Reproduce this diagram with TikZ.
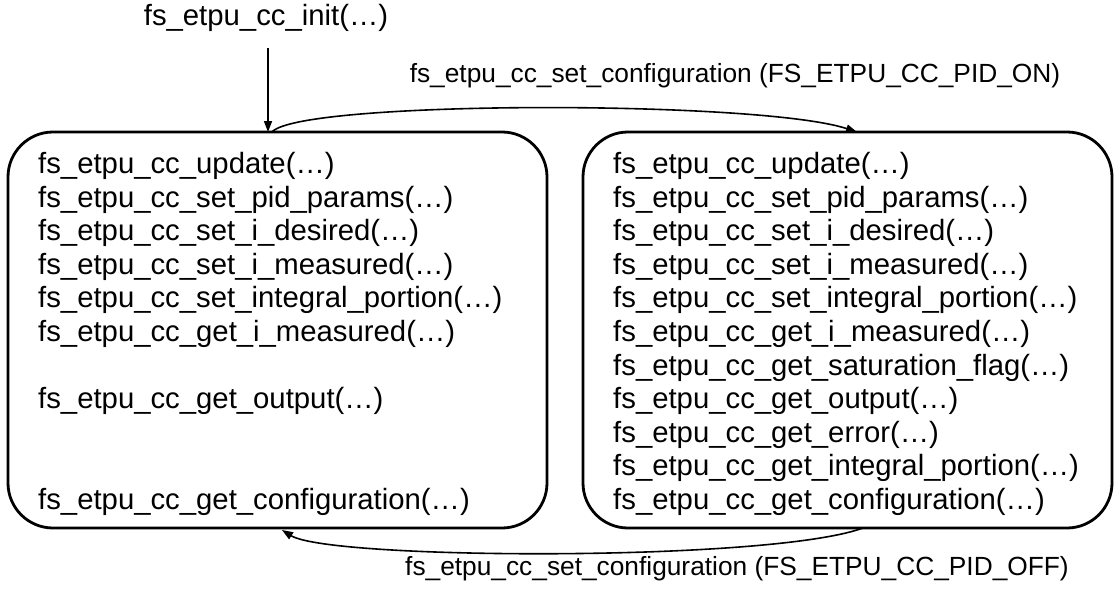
\documentclass[tikz,border=0pt]{standalone}
\usepackage{fontspec}
\setmainfont{Liberation Sans}
\usetikzlibrary{arrows.meta}
\begin{document}
\begin{tikzpicture}[x=1pt,y=-1pt,
  box/.style={draw, line width=2.8pt, rounded corners=45pt, minimum width=#1, minimum height=396pt, inner sep=0pt},
  list/.style={font=\fontsize{29.3}{33.6}\selectfont, align=left, anchor=west, inner sep=0pt},
  lbl/.style={font=\fontsize{26.3}{30}\selectfont, inner sep=0pt},
  conn/.style={line width=1.6pt, -{Triangle[length=11pt,width=8pt]}}]
\useasboundingbox (0,0) rectangle (1114,605);

\node[box=539pt] (L) at (277.5,330) {};
\node[box=529pt] (R) at (847.5,330) {};

\node[list] (Ltext) at (38,334) {fs\_etpu\_cc\_update(…)\\
fs\_etpu\_cc\_set\_pid\_params(…)\\
fs\_etpu\_cc\_set\_i\_desired(…)\\
fs\_etpu\_cc\_set\_i\_measured(…)\\
fs\_etpu\_cc\_set\_integral\_portion(…)\\
fs\_etpu\_cc\_get\_i\_measured(…)\\
\mbox{}\\
fs\_etpu\_cc\_get\_output(…)\\
\mbox{}\\
\mbox{}\\
fs\_etpu\_cc\_get\_configuration(…)};

\node[list] (Rtext) at (613,334) {fs\_etpu\_cc\_update(…)\\
fs\_etpu\_cc\_set\_pid\_params(…)\\
fs\_etpu\_cc\_set\_i\_desired(…)\\
fs\_etpu\_cc\_set\_i\_measured(…)\\
fs\_etpu\_cc\_set\_integral\_portion(…)\\
fs\_etpu\_cc\_get\_i\_measured(…)\\
fs\_etpu\_cc\_get\_saturation\_flag(…)\\
fs\_etpu\_cc\_get\_output(…)\\
fs\_etpu\_cc\_get\_error(…)\\
fs\_etpu\_cc\_get\_integral\_portion(…)\\
fs\_etpu\_cc\_get\_configuration(…)};

\node[font=\fontsize{29.3}{33.6}\selectfont, inner sep=0pt] (init) at (266,18) {fs\_etpu\_cc\_init(…)};
\node[lbl] (on) at (735,76) {fs\_etpu\_cc\_set\_configuration (FS\_ETPU\_CC\_PID\_ON)};
\node[lbl] (off) at (737,569) {fs\_etpu\_cc\_set\_configuration (FS\_ETPU\_CC\_PID\_OFF)};

\coordinate (a0) at (268,48);
\coordinate (a1) at (268,132);
\coordinate (t1) at (272,132);
\coordinate (t2) at (857,132);
\coordinate (b1) at (863,528);
\coordinate (b2) at (282,530);

\draw[conn] (a0) -- (a1);
\draw[conn] (t1) .. controls (300,100) and (760,100) .. (t2);
\draw[conn] (b1) .. controls (770,562) and (330,560) .. (b2);
\end{tikzpicture}
\end{document}
